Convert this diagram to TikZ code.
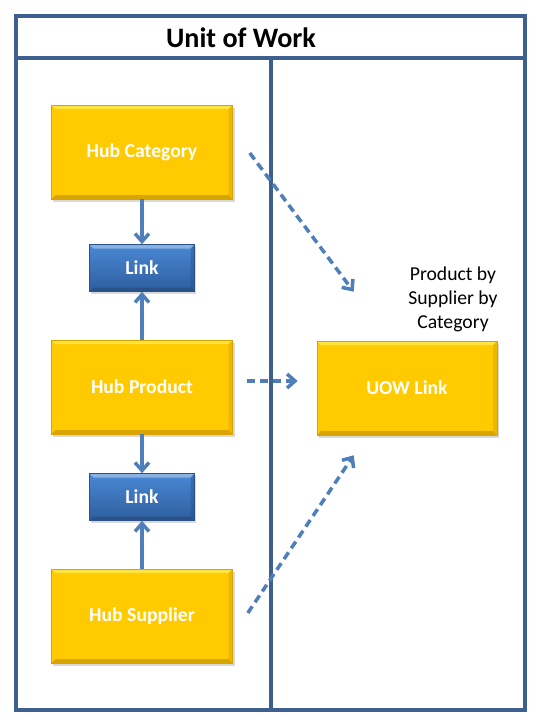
\documentclass[tikz,border=0pt]{standalone}
\usepackage{fontspec}
\setmainfont{Carlito}
\usepackage{xcolor}
\definecolor{uowFrame}{HTML}{3E6090}
\definecolor{uowArrow}{HTML}{4F7FBB}
\definecolor{uowYellow}{HTML}{FFCB00}
\definecolor{uowYellowHi}{HTML}{FFE440}
\definecolor{uowYellowLo}{HTML}{D9A400}
\definecolor{uowBlueTop}{HTML}{4A88D4}
\definecolor{uowBlueBot}{HTML}{2D5E9E}
\definecolor{uowBlueEdge}{HTML}{2A5288}
\usetikzlibrary{arrows.meta,calc,positioning,shadows}

\begin{document}
\begin{tikzpicture}[x=0.03cm,y=-0.03cm,>={Straight Barb[length=0.24cm,width=0.42cm]}]
  \tikzset{
    uowframe/.style={draw=uowFrame,line width=3pt},
    bevel/.style 2 args={
      path picture={
        \fill[#1] (path picture bounding box.north west) -- (path picture bounding box.north east)
          -- ([xshift=-0.12cm,yshift=-0.12cm]path picture bounding box.north east)
          -- ([xshift=0.12cm,yshift=-0.12cm]path picture bounding box.north west) -- cycle;
        \fill[#2] (path picture bounding box.south west) -- (path picture bounding box.south east)
          -- ([xshift=-0.12cm,yshift=0.12cm]path picture bounding box.south east)
          -- ([xshift=0.12cm,yshift=0.12cm]path picture bounding box.south west) -- cycle;
        \fill[#2,opacity=0.45] (path picture bounding box.north east) -- (path picture bounding box.south east)
          -- ([xshift=-0.12cm,yshift=0.12cm]path picture bounding box.south east)
          -- ([xshift=-0.12cm,yshift=-0.12cm]path picture bounding box.north east) -- cycle;
      }
    },
    hubbox/.style={
      draw=uowYellowLo,
      fill=uowYellow,
      line width=0.5pt,
      bevel={uowYellowHi}{uowYellowLo},
      drop shadow={opacity=0.3,shadow xshift=0.06cm,shadow yshift=-0.08cm},
      minimum width=5.43cm,
      minimum height=2.82cm,
      text=white,
      font=\fontsize{16.8}{20}\selectfont\bfseries
    },
    linkbox/.style={
      draw=uowBlueEdge,
      top color=uowBlueTop,
      bottom color=uowBlueBot,
      line width=0.5pt,
      bevel={white!35!uowBlueTop}{uowBlueEdge},
      drop shadow={opacity=0.3,shadow xshift=0.05cm,shadow yshift=-0.07cm},
      minimum width=3.15cm,
      minimum height=1.41cm,
      text=white,
      font=\fontsize{16.8}{20}\selectfont\bfseries
    },
    flow/.style={->,uowArrow,line width=3pt},
    feed/.style={->,uowArrow,line width=3pt,dash pattern=on 0.24cm off 0.15cm}
  }
  \path[use as bounding box] (0,0) rectangle (544,722);

  % swimlane frame
  \draw[uowframe] (16,16) rectangle (525,710);
  \draw[uowframe] (16,58) -- (525,58);
  \draw[uowframe] (271,58) -- (271,710);
  \node[font=\fontsize{24}{28}\selectfont\bfseries] (title) at (241,38) {Unit of Work};

  % hubs and links
  \node[hubbox] (cat) at (142,152) {Hub Category};
  \node[linkbox] (lnka) at (142,268) {Link};
  \node[hubbox] (prod) at (142,387) {Hub Product};
  \node[linkbox] (lnkb) at (142,497) {Link};
  \node[hubbox] (supp) at (142,616) {Hub Supplier};
  \node[hubbox,minimum width=5.40cm] (uow) at (407,388) {UOW Link};
  \node[align=center,font=\fontsize{16.8}{20.5}\selectfont] (uowlabel) at (453,299) {Product by\\Supplier by\\Category};

  \draw[flow] (cat.south) -- (lnka.north);
  \draw[flow] (prod.north) -- (lnka.south);
  \draw[flow] (prod.south) -- (lnkb.north);
  \draw[flow] (supp.north) -- (lnkb.south);

  \draw[feed] ($(cat.east)+(17,1)$) -- ($(uow.north west)+(37,-49)$);
  \draw[feed] ($(prod.east)+(14,-6)$) -- ($(uow.west)+(-19,-7)$);
  \draw[feed] ($(supp.east)+(15,-3)$) -- ($(uow.south west)+(37,20)$);
\end{tikzpicture}
\end{document}
